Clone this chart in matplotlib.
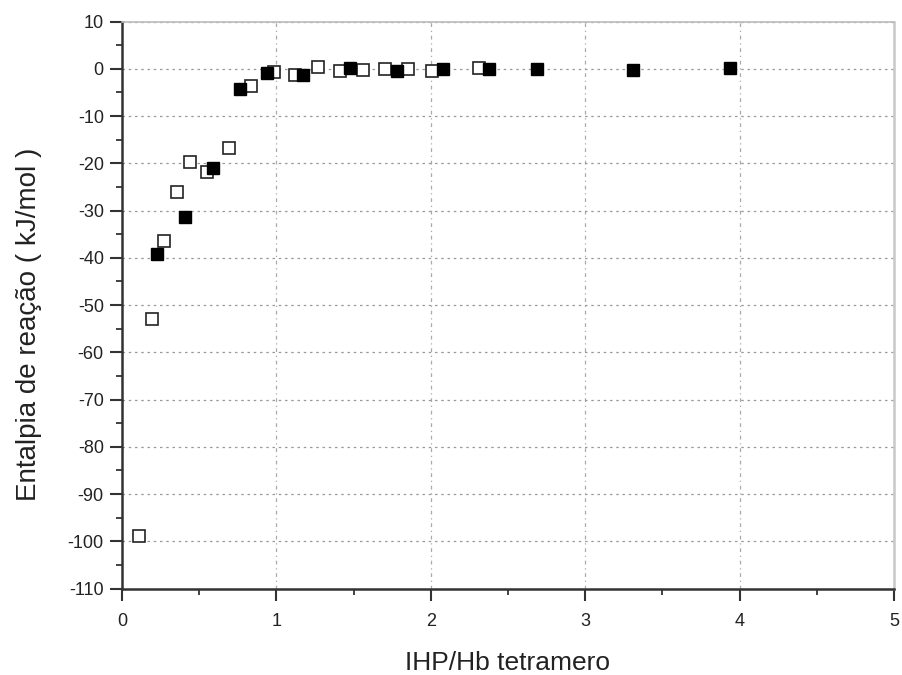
import matplotlib.pyplot as plt
from matplotlib.ticker import MultipleLocator

plt.rcParams['font.family'] = ['Liberation Sans', 'DejaVu Sans']
plt.rcParams['axes.unicode_minus'] = False

# filled squares
x_filled = [0.23, 0.41, 0.59, 0.765, 0.94, 1.17, 1.475, 1.78, 2.08, 2.38, 2.69, 3.31, 3.94]
y_filled = [-39.1, -31.3, -21.0, -4.2, -0.9, -1.2, 0.2, -0.4, -0.1, -0.1, -0.1, -0.3, 0.1]

# open squares
x_open = [0.108, 0.192, 0.272, 0.355, 0.44, 0.553, 0.694, 0.834, 0.986, 1.118,
          1.267, 1.41, 1.56, 1.706, 1.85, 2.005, 2.31]
y_open = [-98.8, -53.0, -36.5, -26.0, -19.7, -21.9, -16.8, -3.7, -0.7, -1.2,
          0.4, -0.5, -0.2, 0.0, 0.0, -0.5, 0.2]

fig = plt.figure(figsize=(9.03, 6.75), dpi=100)
ax = fig.add_axes([0.135, 0.128, 0.855, 0.84])

ax.plot(x_open, y_open, 's', mfc='white', mec='#222222', mew=1.2, ms=8.5, zorder=3)
ax.plot(x_filled, y_filled, 's', mfc='black', mec='black', mew=1.0, ms=8.5, zorder=4)

ax.set_xlim(0, 5)
ax.set_ylim(-110, 10)
ax.xaxis.set_major_locator(MultipleLocator(1))
ax.xaxis.set_minor_locator(MultipleLocator(0.5))
ax.yaxis.set_major_locator(MultipleLocator(10))
ax.yaxis.set_minor_locator(MultipleLocator(5))

ax.grid(True, axis='y', color='#999999', linestyle=(0, (2, 3)), linewidth=0.9)
ax.grid(True, axis='x', color='#aaaaaa', linestyle=(0, (3, 3, 1, 3)), linewidth=0.9)
ax.set_axisbelow(True)

for s in ['left', 'bottom']:
    ax.spines[s].set_linewidth(1.8)
    ax.spines[s].set_color('#333333')
ax.spines['top'].set_linewidth(1.2)
ax.spines['top'].set_color('#bbbbbb')
ax.spines['right'].set_linewidth(1.8)
ax.spines['right'].set_color('#c8c8c8')

ax.tick_params(which='major', direction='out', length=8.5, width=1.5, labelsize=13,
               color='#333333', labelcolor='#222222')
ax.tick_params(which='minor', direction='out', length=4.5, width=1.3, color='#333333')
ax.tick_params(axis='x', which='major', pad=9)
ax.tick_params(axis='y', which='major', pad=4.5)
ax.tick_params(top=False, right=False, which='both')

ax.set_xlabel('IHP/Hb tetramero', fontsize=19, labelpad=15, color='#222222')
ax.set_ylabel('Entalpia de reação ( kJ/mol )', fontsize=20, color='#222222')
ax.yaxis.set_label_coords(-0.104, 0.466)

plt.savefig('out.png', dpi=100)
